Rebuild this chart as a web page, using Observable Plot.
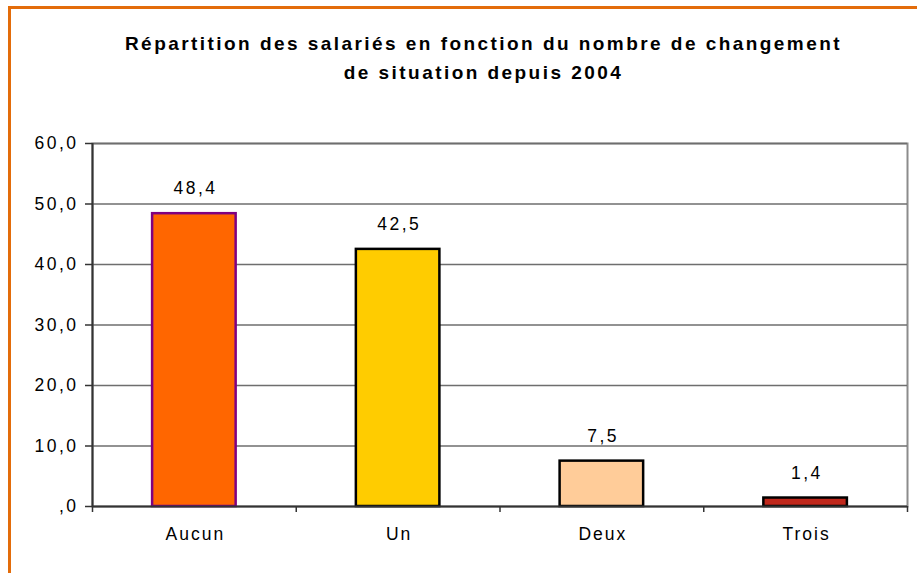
<!DOCTYPE html>
<html>
<head>
<meta charset="utf-8">
<script src="https://cdn.jsdelivr.net/npm/d3@7"></script>
<script src="https://cdn.jsdelivr.net/npm/@observablehq/plot@0.6"></script>
<style>
  html, body { margin: 0; padding: 0; background: #fff; }
  body { width: 917px; height: 573px; overflow: hidden; position: relative; font-family: "Liberation Sans", Arial, sans-serif; }
  #frame { position: absolute; left: 8px; top: 6px; width: 909px; height: 567px; border-top: 3px solid #E36C0A; border-left: 3px solid #E36C0A; }
  #title { height: 91px; box-sizing: border-box; padding-top: 20px; text-align: center; font-weight: bold; font-size: 19px; line-height: 29px; color: #000; padding-left: 36px; letter-spacing: 2.45px; white-space: nowrap; }
  #chart svg { display: block; }
  #chart svg text { font-size: 17.5px; letter-spacing: 2.5px; }
  #chart svg g[aria-label="x-axis tick label"] text { letter-spacing: 2px; }
</style>
</head>
<body>
<div id="frame">
  <div id="title">Répartition des salariés en fonction du nombre de changement<br>de situation depuis 2004</div>
  <div id="chart"></div>
</div>
<script>
const categories = ["Aucun", "Un", "Deux", "Trois"];
const values = [48.4, 42.5, 7.5, 1.4];
const fills = ["#FF6600", "#FFCC00", "#FFCC99", "#C0281C"];
const strokes = ["#800080", "#000000", "#000000", "#000000"];
const yTicks = [0, 10, 20, 30, 40, 50, 60];

const data = categories.map((c, i) => ({cat: c, i, value: values[i], fill: fills[i], stroke: strokes[i]}));
const fmt = v => v === 0 ? ",0" : v.toFixed(1).replace(".", ",");
const half = 0.205;
const centers = categories.map((c, i) => i);
const bounds = d3.range(-0.5, categories.length, 1);

const chart = Plot.plot({
  width: 906,
  height: 473,
  marginTop: 43,
  marginBottom: 67,
  marginLeft: 81,
  marginRight: 10,
  style: {fontFamily: "'Liberation Sans', Arial, sans-serif", fontSize: "17px", color: "#000", background: "#fff"},
  x: {type: "linear", domain: [-0.5, categories.length - 0.5]},
  y: {domain: [0, 60]},
  marks: [
    Plot.frame({stroke: "#8c8c8c", strokeWidth: 2}),
    Plot.ruleY(yTicks.filter(t => t > 0), {stroke: "#6e6e6e", strokeWidth: 1.5}),
    Plot.rect(data, {x1: d => d.i - half, x2: d => d.i + half, y1: 0, y2: "value", fill: "fill", stroke: "stroke", strokeWidth: 2.5}),
    Plot.text(data, {x: "i", y: "value", text: d => fmt(d.value), dy: -25, dx: 1.2, lineAnchor: "middle", fill: "#000"}),
    Plot.ruleX([-0.5], {stroke: "#333", strokeWidth: 2}),
    Plot.ruleY([0], {stroke: "#333", strokeWidth: 2}),
    Plot.axisY({ticks: yTicks, tickFormat: fmt, tickSize: 7, tickPadding: 7, stroke: "#333", strokeWidth: 1.5, label: null}),
    Plot.axisX({ticks: bounds, tickSize: 6, tickFormat: () => "", stroke: "#333", strokeWidth: 1.5, label: null}),
    Plot.axisX({ticks: centers, tickSize: 0, tickPadding: 21, dx: 1, tickFormat: i => categories[i], label: null})
  ]
});
document.getElementById("chart").appendChild(chart);
</script>
</body>
</html>
